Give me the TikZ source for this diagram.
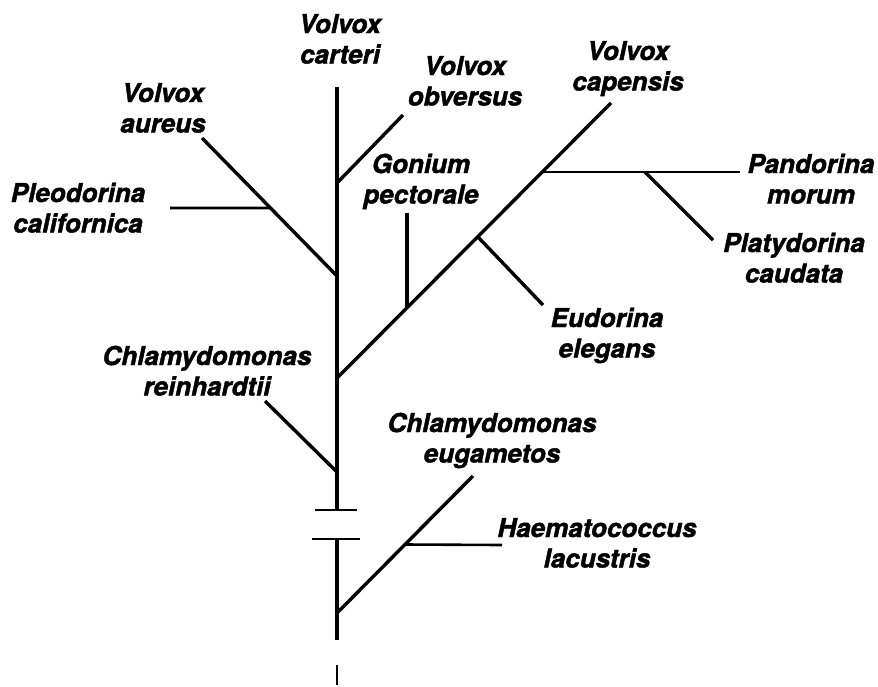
\documentclass[tikz,border=0pt]{standalone}
\usepackage{fontspec}
\setmainfont{TeX Gyre Heros}
\newfontfamily\labfont[BoldItalicFeatures={FakeBold=1.6}]{TeX Gyre Heros}
\usetikzlibrary{calc}
\newcommand\twolines[2]{\vtop{\baselineskip=30.5pt\halign{\hfil##\hfil\cr#1\cr#2\cr}}}
\begin{document}
\begin{tikzpicture}[x=1pt,y=-1pt,
  br/.style={line width=3.4pt},
  hbr/.style={line width=2.6pt},
  lbl/.style={font=\fontsize{26}{30}\labfont\bfseries\itshape, inner sep=0pt, anchor=base}]
\useasboundingbox (0,0) rectangle (878,686);
% junctions and ends
\coordinate (T0) at (337,87);
\coordinate (Jobv) at (337,183);
\coordinate (Eobv) at (403,115);
\coordinate (Jaur) at (337,276);
\coordinate (Eaur) at (202,138);
\coordinate (Jple) at ($(Jaur)!0.493!(Eaur)$);
\coordinate (Eple) at (170,208);
\coordinate (Jmain) at (337,378);
\coordinate (Ecap) at (611,103);
\coordinate (Jgon) at (407,308);
\coordinate (Egon) at (407,213);
\coordinate (Jeud) at (478,237);
\coordinate (Eeud) at (543,305);
\coordinate (Jpan) at (543,172);
\coordinate (Epan) at (740,172);
\coordinate (Jpla) at (645,172);
\coordinate (Epla) at (713,240);
\coordinate (Jrei) at (337,472);
\coordinate (Erei) at (265,401);
\coordinate (B1) at (337,510);
\coordinate (B1l) at (315,510);
\coordinate (B1r) at (357,510);
\coordinate (B2) at (337,539);
\coordinate (B2l) at (312,539);
\coordinate (B2r) at (360,539);
\coordinate (Jeug) at (337,613);
\coordinate (Eeug) at (473,476);
\coordinate (Jhae) at ($(Jeug)!0.5!(Eeug)$);
\coordinate (Ehae) at (502,545);
\coordinate (Tend) at (337,640);
\coordinate (K1) at (337,665);
\coordinate (K2) at (337,685);
% branches
\draw[br] (T0) -- (B1);
\draw[br] (B2) -- (Tend);
\draw[hbr] (B1l) -- (B1r);
\draw[hbr] (B2l) -- (B2r);
\draw[hbr] (K1) -- (K2);
\draw[br] (Jobv) -- (Eobv);
\draw[br] (Jaur) -- (Eaur);
\draw[hbr] (Jple) -- (Eple);
\draw[br] (Jmain) -- (Ecap);
\draw[br] (Jgon) -- (Egon);
\draw[br] (Jeud) -- (Eeud);
\draw[hbr] (Jpan) -- (Epan);
\draw[br] (Jpla) -- (Epla);
\draw[br] (Jrei) -- (Erei);
\draw[br] (Jeug) -- (Eeug);
\draw[hbr] (Jhae) -- (Ehae);
% labels
\node[lbl] (carteri) at (340,33) {\twolines{Volvox}{carteri}};
\node[lbl] (obversus) at (465,75) {\twolines{Volvox}{obversus}};
\node[lbl] (capensis) at (628,60) {\twolines{Volvox}{capensis}};
\node[lbl] (aureus) at (163,102) {\twolines{Volvox}{aureus}};
\node[lbl] (pleodorina) at (78,202) {\twolines{Pleodorina}{californica}};
\node[lbl] (gonium) at (421,173) {\twolines{Gonium}{pectorale}};
\node[lbl] (pandorina) at (811,173) {\twolines{Pandorina}{morum}};
\node[lbl] (platydorina) at (794,252) {\twolines{Platydorina}{caudata}};
\node[lbl] (eudorina) at (607,327) {\twolines{Eudorina}{elegans}};
\node[lbl] (reinhardtii) at (207,365) {\twolines{Chlamydomonas}{reinhardtii}};
\node[lbl] (eugametos) at (492,432) {\twolines{Chlamydomonas}{eugametos}};
\node[lbl] (haemato) at (597,537) {\twolines{Haematococcus}{lacustris}};
\end{tikzpicture}
\end{document}
